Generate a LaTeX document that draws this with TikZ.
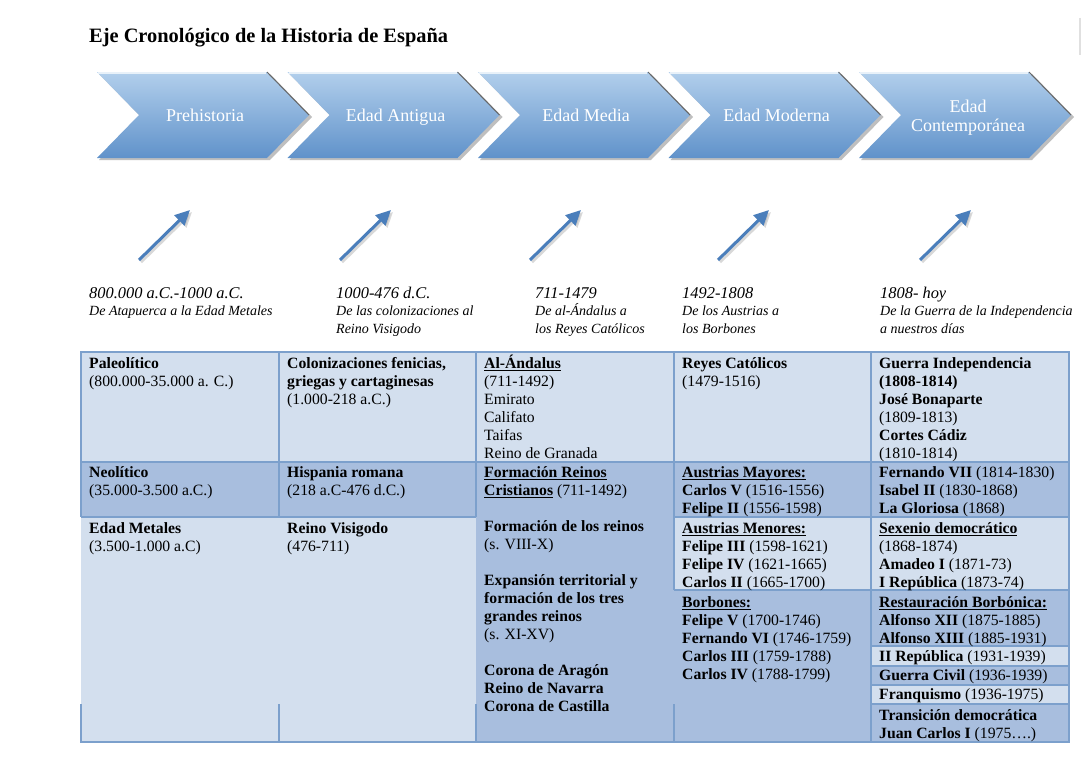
\documentclass[tikz,border=0pt]{standalone}
\usepackage{fontspec}
\setmainfont{Liberation Serif}
\usetikzlibrary{arrows.meta}
\definecolor{lightcell}{RGB}{211,223,238}
\definecolor{darkcell}{RGB}{168,190,222}
\definecolor{gridline}{RGB}{124,160,204}
\definecolor{chevtop}{RGB}{178,207,236}
\definecolor{chevbot}{RGB}{96,146,202}
\definecolor{arrowblue}{RGB}{74,126,187}
\tikzset{
  celltext/.style={anchor=base west, inner sep=0pt, font=\fontsize{15.7}{18}\selectfont},
  datetext/.style={anchor=base west, inner sep=0pt, font=\itshape},
  chevlabel/.style={anchor=base, inner sep=0pt, text=white, font=\fontsize{18}{19}\selectfont},
  grid/.style={draw=gridline, line width=2pt},
  arrowline/.style={draw=arrowblue, line width=3pt, -{Triangle[length=15pt,width=14pt]}},
  arrowshadow/.style={draw=black!30, line width=3pt, -{Triangle[length=15pt,width=14pt]}, opacity=0.5}
}
\newcommand{\ulbf}[1]{\leavevmode\setbox0=\hbox{\textbf{#1}}\rlap{\rule[-2.4pt]{\wd0}{0.9pt}}\box0\relax}
\newcommand{\datebox}[3]{\parbox[t]{230pt}{\fontsize{16.4}{18}\selectfont #1\\[-1pt]{\fontsize{14}{16}\selectfont #2\ifx&#3&\else\\#3\fi}}}
\begin{document}
\begin{tikzpicture}[x=1pt,y=-1pt]
\useasboundingbox (0,0) rectangle (1081,760);
\fill[white] (0,0) rectangle (1081,760);
\draw[black!12, line width=2pt] (1080,18) -- (1080,55);

% title
\node[anchor=base west, inner sep=0pt, font=\fontsize{20.4}{24}\selectfont\bfseries] (title) at (89,43) {Eje Cronológico de la Historia de España};

% chevrons
\foreach \i/\lab in {0/Prehistoria,1/Edad Antigua,2/Edad Media,3/Edad Moderna}{
  \pgfmathsetmacro{\xl}{97+190.5*\i}
  \fill[black!45, opacity=0.55] (\xl+2,74) -- (\xl+173,74) -- (\xl+215,117) -- (\xl+173,160) -- (\xl+2,160) -- (\xl+44,117) -- cycle;
  \shade[top color=chevtop, bottom color=chevbot] (\xl,72) -- (\xl+170,72) -- (\xl+212,115) -- (\xl+170,158) -- (\xl,158) -- (\xl+42,115) -- cycle;
  \draw[white!70!chevtop, line width=1.5pt] (\xl+1,73) -- (\xl+169,73);
  \draw[black!60, line width=1pt] (\xl+170,72) -- (\xl+212,115);
  \node[chevlabel] (ch\i) at (\xl+108,121) {\lab};
}
\pgfmathsetmacro{\xl}{97+190.5*4}
\fill[black!45, opacity=0.55] (\xl+2,74) -- (\xl+173,74) -- (\xl+215,117) -- (\xl+173,160) -- (\xl+2,160) -- (\xl+44,117) -- cycle;
\shade[top color=chevtop, bottom color=chevbot] (\xl,72) -- (\xl+170,72) -- (\xl+212,115) -- (\xl+170,158) -- (\xl,158) -- (\xl+42,115) -- cycle;
\draw[white!70!chevtop, line width=1.5pt] (\xl+1,73) -- (\xl+169,73);
\draw[black!60, line width=1pt] (\xl+170,72) -- (\xl+212,115);
\node[chevlabel] (ch4a) at (\xl+109,112) {Edad};
\node[chevlabel] (ch4b) at (\xl+109,131) {Contemporánea};

% arrows
\foreach \i/\x in {1/139,2/340,3/530,4/718,5/920}{
  \coordinate (as\i) at (\x,260);
  \coordinate (ae\i) at (\x+51,210);
  \coordinate (ss\i) at (\x+2,262);
  \coordinate (se\i) at (\x+53,212);
  \draw[arrowshadow] (ss\i) -- (se\i);
  \draw[arrowline] (as\i) -- (ae\i);
}

% date labels
\node[datetext] (d1) at (89,298) {\datebox{800.000 a.C.-1000 a.C.}{De Atapuerca a la Edad Metales}{}};
\node[datetext] (d2) at (336,298) {\datebox{1000-476 d.C.}{De las colonizaciones al}{Reino Visigodo}};
\node[datetext] (d3) at (535,298) {\datebox{711-1479}{De al-Ándalus a}{los Reyes Católicos}};
\node[datetext] (d4) at (682,298) {\datebox{1492-1808}{De los Austrias a}{los Borbones}};
\node[datetext] (d5) at (880,298) {\datebox{1808- hoy}{De la Guerra de la Independencia}{a nuestros días}};

% table fills
\fill[lightcell] (81,352) rectangle (1069,742);
\fill[darkcell] (81,462) rectangle (476,517);
\fill[darkcell] (476,462) rectangle (674,742);
\fill[darkcell] (674,462) rectangle (871,517);
\fill[darkcell] (674,590) rectangle (871,742);
\fill[darkcell] (871,462) rectangle (1069,517);
\fill[darkcell] (871,590) rectangle (1069,646);
\fill[darkcell] (871,666) rectangle (1069,685);
\fill[darkcell] (871,704) rectangle (1069,742);

% grid
\draw[grid] (80,352) -- (1070,352);
\draw[grid] (80,742) -- (1070,742);
\draw[grid] (1069,352) -- (1069,742);
\draw[grid] (871,352) -- (871,742);
\foreach \x in {81,279,476}{
  \draw[grid] (\x,352) -- (\x,517);
  \draw[grid] (\x,704) -- (\x,742);
}
\draw[grid] (674,352) -- (674,590);
\draw[grid] (674,704) -- (674,742);
\draw[grid] (81,462) -- (1069,462);
\draw[grid] (81,517) -- (476,517);
\draw[grid] (674,517) -- (1069,517);
\draw[grid] (674,590) -- (1069,590);
\draw[grid] (871,646) -- (1069,646);
\draw[grid] (871,666) -- (1069,666);
\draw[grid] (871,685) -- (1069,685);
\draw[grid] (871,704) -- (1069,704);

% column 1
\node[celltext] (c11) at (89,368) {\parbox[t]{185pt}{\textbf{Paleolítico}\\(800.000-35.000 a. C.)}};
\node[celltext] (c12) at (89,477) {\parbox[t]{185pt}{\textbf{Neolítico}\\(35.000-3.500 a.C.)}};
\node[celltext] (c13) at (89,533) {\parbox[t]{185pt}{\textbf{Edad Metales}\\(3.500-1.000 a.C)}};
% column 2
\node[celltext] (c21) at (287,368) {\parbox[t]{185pt}{\textbf{Colonizaciones fenicias,}\\\textbf{griegas y cartaginesas}\\(1.000-218 a.C.)}};
\node[celltext] (c22) at (287,477) {\parbox[t]{185pt}{\textbf{Hispania romana}\\(218 a.C-476 d.C.)}};
\node[celltext] (c23) at (287,533) {\parbox[t]{185pt}{\textbf{Reino Visigodo}\\(476-711)}};
% column 3
\node[celltext] (c31) at (484,368) {\parbox[t]{185pt}{\ulbf{Al-Ándalus}\\(711-1492)\\Emirato\\Califato\\Taifas\\Reino de Granada}};
\node[celltext] (c32) at (484,477) {\parbox[t]{185pt}{\ulbf{Formación Reinos}\\\ulbf{Cristianos} (711-1492)\\[18pt]\textbf{Formación de los reinos}\\(s. VIII-X)\\[18pt]\textbf{Expansión territorial y}\\\textbf{formación de los tres}\\\textbf{grandes reinos}\\(s. XI-XV)\\[18pt]\textbf{Corona de Aragón}\\\textbf{Reino de Navarra}\\\textbf{Corona de Castilla}}};
% column 4
\node[celltext] (c41) at (682,368) {\parbox[t]{185pt}{\textbf{Reyes Católicos}\\(1479-1516)}};
\node[celltext] (c42) at (682,477) {\parbox[t]{185pt}{\ulbf{Austrias Mayores:}\\\textbf{Carlos V} (1516-1556)\\\textbf{Felipe II} (1556-1598)}};
\node[celltext] (c43) at (682,533) {\parbox[t]{185pt}{\ulbf{Austrias Menores:}\\\textbf{Felipe III} (1598-1621)\\\textbf{Felipe IV} (1621-1665)\\\textbf{Carlos II} (1665-1700)}};
\node[celltext] (c44) at (682,607) {\parbox[t]{185pt}{\ulbf{Borbones:}\\\textbf{Felipe V} (1700-1746)\\\textbf{Fernando VI} (1746-1759)\\\textbf{Carlos III} (1759-1788)\\\textbf{Carlos IV} (1788-1799)}};
% column 5
\node[celltext] (c51) at (879,368) {\parbox[t]{185pt}{\textbf{Guerra Independencia}\\\textbf{(1808-1814)}\\\textbf{José Bonaparte}\\(1809-1813)\\\textbf{Cortes Cádiz}\\(1810-1814)}};
\node[celltext] (c52) at (879,477) {\parbox[t]{185pt}{\textbf{Fernando VII} (1814-1830)\\\textbf{Isabel II} (1830-1868)\\\textbf{La Gloriosa} (1868)}};
\node[celltext] (c53) at (879,533) {\parbox[t]{185pt}{\ulbf{Sexenio democrático}\\(1868-1874)\\\textbf{Amadeo I} (1871-73)\\\textbf{I República} (1873-74)}};
\node[celltext] (c54) at (879,607) {\parbox[t]{185pt}{\ulbf{Restauración Borbónica:}\\\textbf{Alfonso XII} (1875-1885)\\\textbf{Alfonso XIII} (1885-1931)}};
\node[celltext] (c55) at (879,661) {\textbf{II República} (1931-1939)};
\node[celltext] (c56) at (879,680) {\textbf{Guerra Civil} (1936-1939)};
\node[celltext] (c57) at (879,699) {\textbf{Franquismo} (1936-1975)};
\node[celltext] (c58) at (879,720) {\parbox[t]{185pt}{\textbf{Transición democrática}\\\textbf{Juan Carlos I} (1975….)}};
\end{tikzpicture}
\end{document}
